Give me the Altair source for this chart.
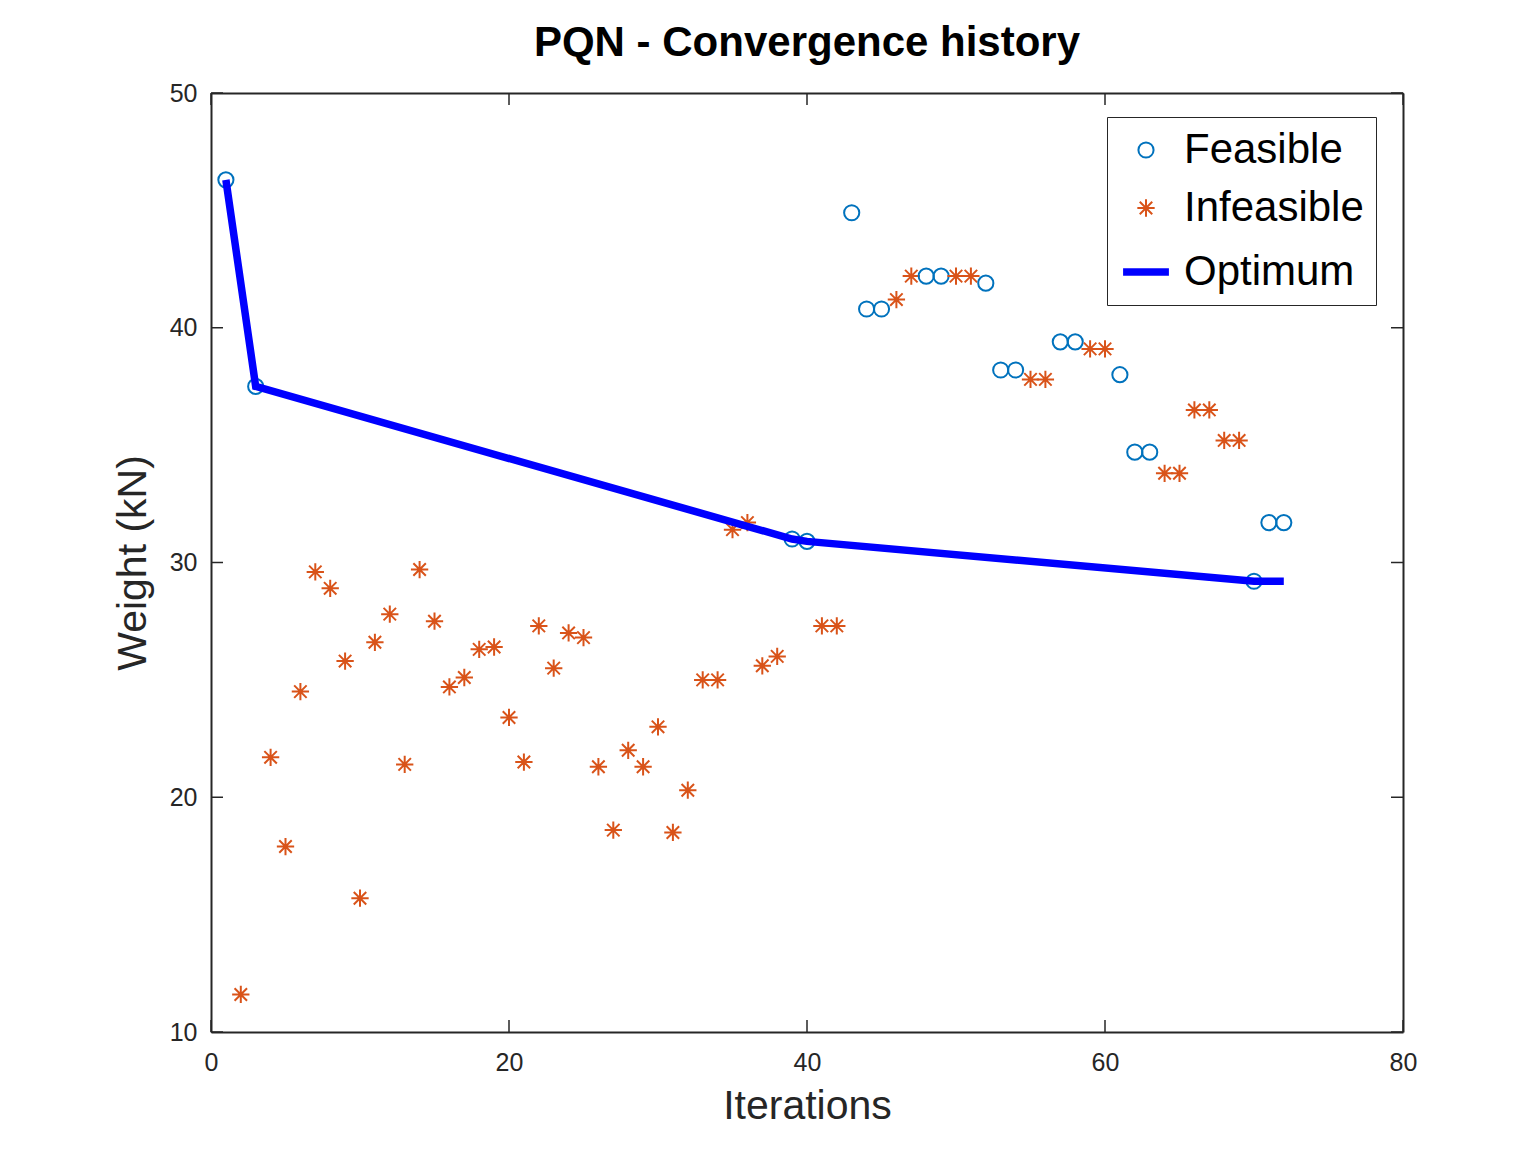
import altair as alt
import pandas as pd

iterations = list(range(1, 73))
weights = [46.3, 11.6, 37.5, 21.7, 17.9, 24.5, 29.6, 28.9, 25.8, 15.7,
           26.6, 27.8, 21.4, 29.7, 27.5, 24.7, 25.1, 26.3, 26.4, 23.4,
           21.5, 27.3, 25.5, 27.0, 26.8, 21.3, 18.6, 22.0, 21.3, 23.0,
           18.5, 20.3, 25.0, 25.0, 31.4, 31.7, 25.6, 26.0, 31.0, 30.9,
           27.3, 27.3, 44.9, 40.8, 40.8, 41.2, 42.2, 42.2, 42.2, 42.2,
           42.2, 41.9, 38.2, 38.2, 37.8, 37.8, 39.4, 39.4, 39.1, 39.1,
           38.0, 34.7, 34.7, 33.8, 33.8, 36.5, 36.5, 35.2, 35.2, 29.2,
           31.7, 31.7]
status = ["F", "I", "F", "I", "I", "I", "I", "I", "I", "I",
          "I", "I", "I", "I", "I", "I", "I", "I", "I", "I",
          "I", "I", "I", "I", "I", "I", "I", "I", "I", "I",
          "I", "I", "I", "I", "I", "I", "I", "I", "F", "F",
          "I", "I", "F", "F", "F", "I", "I", "F", "F", "I",
          "I", "F", "F", "F", "I", "I", "F", "F", "I", "I",
          "F", "F", "F", "I", "I", "I", "I", "I", "I", "F",
          "F", "F"]

opt_iter = [1, 3, 39, 40, 70, 72]
opt_weight = [46.3, 37.5, 31.0, 30.9, 29.2, 29.2]

x_ticks = [0, 20, 40, 60, 80]
y_ticks = [10, 20, 30, 40, 50]

series_names = ["Feasible", "Infeasible", "Optimum"]
series_colors = ["#0072BD", "#D95319", "#0000FF"]
star = "M-1,0L1,0M0,-1L0,1M-0.72,-0.72L0.72,0.72M-0.72,0.72L0.72,-0.72"

W, H = 1192, 939
TICK = 12
FONT = "Liberation Sans"
FRAME = "#262626"

pts = pd.DataFrame({
    "it": iterations,
    "w": weights,
    "series": ["Feasible" if s == "F" else "Infeasible" for s in status],
})
opt = pd.DataFrame({"it": opt_iter, "w": opt_weight, "series": ["Optimum"] * len(opt_iter)})
xt = pd.DataFrame({"v": x_ticks})
yt = pd.DataFrame({"v": y_ticks})

xscale = alt.Scale(domain=[0, 80], nice=False, zero=False)
yscale = alt.Scale(domain=[10, 50], nice=False, zero=False)

xaxis = alt.Axis(values=x_ticks, title="Iterations", grid=False, domain=True, ticks=False,
                 domainColor=FRAME, domainWidth=2,
                 labelFont=FONT, labelFontSize=25, labelColor="#262626", labelPadding=18,
                 titleFont=FONT, titleFontSize=41, titleFontWeight="normal", titleColor="#262626",
                 titlePadding=11, labelFlush=False)
yaxis = alt.Axis(values=y_ticks, title="Weight (kN)", grid=False, domain=True, ticks=False,
                 domainColor=FRAME, domainWidth=2,
                 labelFont=FONT, labelFontSize=25, labelColor="#262626", labelPadding=14,
                 titleFont=FONT, titleFontSize=41, titleFontWeight="normal", titleColor="#262626",
                 titlePadding=15, labelFlush=False)
xaxis_top = alt.Axis(orient="top", values=x_ticks, title=None, labels=False, ticks=False, grid=False,
                     domain=True, domainColor=FRAME, domainWidth=2)
yaxis_right = alt.Axis(orient="right", values=y_ticks, title=None, labels=False, ticks=False, grid=False,
                       domain=True, domainColor=FRAME, domainWidth=2)

legend = alt.Legend(title=None, orient="none", legendX=896, legendY=24,
                    fillColor="white", strokeColor="#262626",
                    padding=12, labelFont=FONT, labelFontSize=42, labelColor="black",
                    labelLimit=500, labelOffset=11, rowPadding=16, symbolOffset=0)

color = alt.Color("series:N", scale=alt.Scale(domain=series_names, range=series_colors), legend=legend)
shape = alt.Shape("series:N", scale=alt.Scale(domain=series_names, range=["circle", star, "stroke"]), legend=legend)
size = alt.Size("series:N", scale=alt.Scale(type="ordinal", domain=series_names, range=[230, 300, 2100]), legend=legend)
sw = alt.StrokeWidth("series:N", scale=alt.Scale(type="ordinal", domain=series_names, range=[2, 2, 7.5]), legend=legend)

points = alt.Chart(pts).mark_point(filled=False, opacity=1).encode(
    x=alt.X("it:Q", scale=xscale, axis=xaxis),
    y=alt.Y("w:Q", scale=yscale, axis=yaxis),
    color=color, shape=shape, size=size, strokeWidth=sw,
)

line = alt.Chart(opt).mark_line(strokeCap="butt", strokeJoin="miter").encode(
    x=alt.X("it:Q", scale=xscale, axis=None),
    y=alt.Y("w:Q", scale=yscale, axis=None),
    color=color, strokeWidth=sw,
)

tick_color = "#262626"
xt_bot = alt.Chart(xt).mark_rule(color=tick_color, strokeWidth=1.5).encode(
    x=alt.X("v:Q", scale=xscale, axis=None), y=alt.value(H), y2=alt.value(H - TICK))
xt_top = alt.Chart(xt).mark_rule(color=tick_color, strokeWidth=1.5).encode(
    x=alt.X("v:Q", scale=xscale, axis=xaxis_top), y=alt.value(0), y2=alt.value(TICK))
yt_left = alt.Chart(yt).mark_rule(color=tick_color, strokeWidth=1.5).encode(
    y=alt.Y("v:Q", scale=yscale, axis=None), x=alt.value(0), x2=alt.value(TICK))
yt_right = alt.Chart(yt).mark_rule(color=tick_color, strokeWidth=1.5).encode(
    y=alt.Y("v:Q", scale=yscale, axis=yaxis_right), x=alt.value(W), x2=alt.value(W - TICK))

chart = alt.layer(xt_bot, xt_top, yt_left, yt_right, points, line).resolve_axis(
    x="independent", y="independent"
).properties(
    width=W, height=H,
    title=alt.Title("PQN - Convergence history", font=FONT, fontSize=42, fontWeight="bold",
                    color="black", anchor="middle", baseline="alphabetic", offset=36, dy=53),
    autosize=alt.AutoSizeParams(type="none"),
    padding={"left": 203, "top": 85, "right": 120, "bottom": 112},
).configure_view(stroke=None).configure(background="white")

chart.save("out.html", embed_options={"renderer": "svg", "actions": False})
